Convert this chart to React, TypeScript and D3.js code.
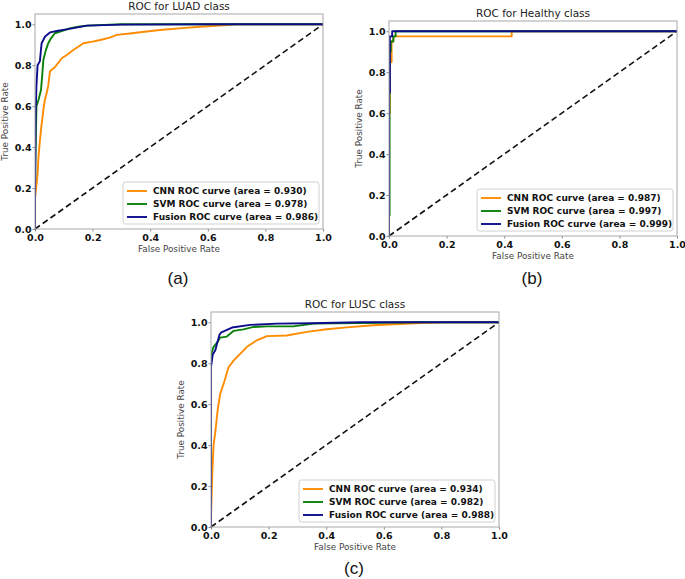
import React, {useEffect, useRef} from "react";
import * as d3 from 'd3';

type Pt = [number, number];

// ROC points: [false positive rate, true positive rate]
const LUAD_CNN: Pt[] = [[0,0],[0,0.15],[0.004,0.2],[0.009,0.27],[0.012,0.35],[0.017,0.43],[0.022,0.5],[0.029,0.58],[0.034,0.63],[0.04,0.66],[0.046,0.7],[0.052,0.77],[0.06,0.78],[0.069,0.79],[0.08,0.81],[0.093,0.834],[0.11,0.85],[0.133,0.874],[0.15,0.89],[0.168,0.907],[0.2,0.915],[0.226,0.923],[0.26,0.935],[0.284,0.948],[0.33,0.955],[0.365,0.961],[0.434,0.972],[0.5,0.98],[0.573,0.988],[0.666,0.996],[0.7,1],[1,1]];
const LUAD_SVM: Pt[] = [[0,0],[0,0.2],[0.003,0.45],[0.005,0.6],[0.012,0.63],[0.021,0.68],[0.025,0.75],[0.029,0.825],[0.037,0.87],[0.046,0.907],[0.055,0.93],[0.069,0.956],[0.09,0.965],[0.12,0.98],[0.15,0.988],[0.18,0.993],[0.3,1],[1,1]];
const LUAD_FUSION: Pt[] = [[0,0],[0,0.15],[0.002,0.55],[0.005,0.7],[0.009,0.8],[0.017,0.82],[0.021,0.88],[0.023,0.907],[0.035,0.94],[0.052,0.96],[0.08,0.968],[0.11,0.975],[0.18,0.993],[0.3,0.998],[0.6,1],[1,1]];

const HEALTHY_CNN: Pt[] = [[0,0],[0,0.6],[0.003,0.6],[0.003,0.85],[0.009,0.85],[0.009,0.95],[0.015,0.95],[0.015,0.975],[0.426,0.975],[0.426,1],[1,1]];
const HEALTHY_SVM: Pt[] = [[0,0],[0,0.1],[0.002,0.1],[0.002,0.9],[0.006,0.9],[0.006,0.95],[0.015,0.95],[0.015,0.975],[0.023,0.975],[0.023,1],[1,1]];
const HEALTHY_FUSION: Pt[] = [[0,0],[0,0.7],[0.003,0.7],[0.003,0.975],[0.011,0.975],[0.011,1],[1,1]];

const LUSC_CNN: Pt[] = [[0,0],[0,0.05],[0.005,0.28],[0.009,0.4],[0.015,0.464],[0.023,0.57],[0.032,0.651],[0.044,0.7],[0.061,0.78],[0.079,0.814],[0.102,0.847],[0.125,0.88],[0.159,0.912],[0.194,0.932],[0.263,0.935],[0.333,0.953],[0.402,0.966],[0.471,0.975],[0.563,0.985],[0.633,0.99],[0.748,0.997],[0.829,1],[1,1]];
const LUSC_SVM: Pt[] = [[0,0],[0,0.84],[0.009,0.88],[0.021,0.9],[0.032,0.925],[0.055,0.93],[0.079,0.958],[0.113,0.965],[0.148,0.977],[0.194,0.98],[0.286,0.98],[0.356,0.993],[0.517,0.996],[0.713,1],[1,1]];
const LUSC_FUSION: Pt[] = [[0,0],[0,0.78],[0.006,0.842],[0.015,0.863],[0.021,0.896],[0.03,0.941],[0.036,0.951],[0.073,0.974],[0.136,0.987],[0.229,0.993],[0.344,0.995],[0.517,1],[1,1]];

const MODEL_NAMES = ["CNN", "SVM", "Fusion"];
const MODEL_COLORS = ["#ff8c00", "#0a800a", "#0d0d8c"];
const LUAD_AUC = ["0.930", "0.978", "0.986"];
const HEALTHY_AUC = ["0.987", "0.997", "0.999"];
const LUSC_AUC = ["0.934", "0.982", "0.988"];
const TICKS = [0, 0.2, 0.4, 0.6, 0.8, 1.0];

const panels = [
    {title: "ROC for LUAD class", tag: "(a)", x: 35, y: 14, tagY: 284, curves: [LUAD_CNN, LUAD_SVM, LUAD_FUSION], auc: LUAD_AUC},
    {title: "ROC for Healthy class", tag: "(b)", x: 389, y: 21, tagY: 284, curves: [HEALTHY_CNN, HEALTHY_SVM, HEALTHY_FUSION], auc: HEALTHY_AUC},
    {title: "ROC for LUSC class", tag: "(c)", x: 211, y: 312, tagY: 574, curves: [LUSC_CNN, LUSC_SVM, LUSC_FUSION], auc: LUSC_AUC},
];

const PW = 288, PH = 215;
const FONT = "DejaVu Sans, Verdana, sans-serif";

const App: React.FC = () => {
    const svgRef = useRef<SVGSVGElement | null>(null);

    useEffect(() => {
        if (!svgRef.current) return;
        const svg = d3.select(svgRef.current);
        svg.selectAll('*').remove();

        panels.forEach(p => {
            const g = svg.append("g").attr("transform", `translate(${p.x},${p.y})`);
            const x = d3.scaleLinear().domain([0, 1]).range([0, PW]);
            const y = d3.scaleLinear().domain([0, 1.05]).range([PH, 0]);

            // axes
            const xa = g.append("g").attr("transform", `translate(0,${PH})`)
                .call(d3.axisBottom(x).tickValues(TICKS).tickFormat(d3.format(".1f")).tickSize(2.5).tickPadding(2.5));
            const ya = g.append("g")
                .call(d3.axisLeft(y).tickValues(TICKS).tickFormat(d3.format(".1f")).tickSize(2.5).tickPadding(1));
            [xa, ya].forEach(a => {
                a.select(".domain").remove();
                a.selectAll("line").attr("stroke", "#888");
                a.selectAll("text").attr("fill", "#111").style("font-family", FONT)
                    .style("font-weight", "bold").style("font-size", "9.5px");
            });

            // diagonal
            g.append("line")
                .attr("x1", x(0)).attr("y1", y(0)).attr("x2", x(1)).attr("y2", y(1))
                .attr("stroke", "#111").attr("stroke-width", 1.6).attr("stroke-dasharray", "6,3.5");

            const line = d3.line<Pt>().x(d => x(d[0])).y(d => y(d[1]));
            const clipId = "clip" + p.tag.replace(/\W/g, "");
            g.append("defs").append("clipPath").attr("id", clipId)
                .append("rect").attr("width", PW).attr("height", PH);
            const cg = g.append("g").attr("clip-path", `url(#${clipId})`);
            p.curves.forEach((c, i) => {
                cg.append("path").datum(c).attr("d", line).attr("fill", "none")
                    .attr("stroke", MODEL_COLORS[i]).attr("stroke-width", 1.9)
                    .attr("stroke-linejoin", "round");
            });

            // frame
            g.append("rect").attr("width", PW).attr("height", PH)
                .attr("fill", "none").attr("stroke", "#a8a8a8").attr("stroke-width", 1);

            // legend
            const lw = 196, lh = 42;
            const lg = g.append("g").attr("transform", `translate(${PW - 4 - lw},${PH - 5 - lh})`);
            lg.append("rect").attr("width", lw).attr("height", lh).attr("rx", 2.5)
                .attr("fill", "white").attr("fill-opacity", 0.85).attr("stroke", "#d0d0d0");
            MODEL_NAMES.forEach((name, i) => {
                const ry = 9 + i * 13;
                lg.append("line").attr("x1", 4).attr("x2", 24).attr("y1", ry).attr("y2", ry)
                    .attr("stroke", MODEL_COLORS[i]).attr("stroke-width", 1.9);
                lg.append("text").attr("x", 30).attr("y", ry + 3.3)
                    .style("font-family", FONT).style("font-weight", "bold").style("font-size", "9px")
                    .attr("fill", "#111")
                    .text(`${name} ROC curve (area = ${p.auc[i]})`);
            });

            // titles
            g.append("text").attr("x", PW / 2).attr("y", -4).attr("text-anchor", "middle")
                .style("font-family", FONT).style("font-size", "10.5px").attr("fill", "#222").text(p.title);
            g.append("text").attr("x", PW / 2).attr("y", PH + 23).attr("text-anchor", "middle")
                .style("font-family", FONT).style("font-size", "8.8px").attr("fill", "#444").text("False Positive Rate");
            g.append("text").attr("transform", `translate(-27,${PH / 2}) rotate(-90)`).attr("text-anchor", "middle")
                .style("font-family", FONT).style("font-size", "8.8px").attr("fill", "#444").text("True Positive Rate");
            svg.append("text").attr("x", p.x + PW / 2 - 1).attr("y", p.tagY).attr("text-anchor", "middle")
                .style("font-family", "Liberation Sans, Arial, sans-serif").style("font-size", "17px")
                .attr("fill", "#111").text(p.tag);
        });
    }, []);

    return (
        <svg ref={svgRef} width={685} height={579}
             style={{position: "absolute", left: 0, top: 0, background: "white"}}/>
    );
};

export default App;
